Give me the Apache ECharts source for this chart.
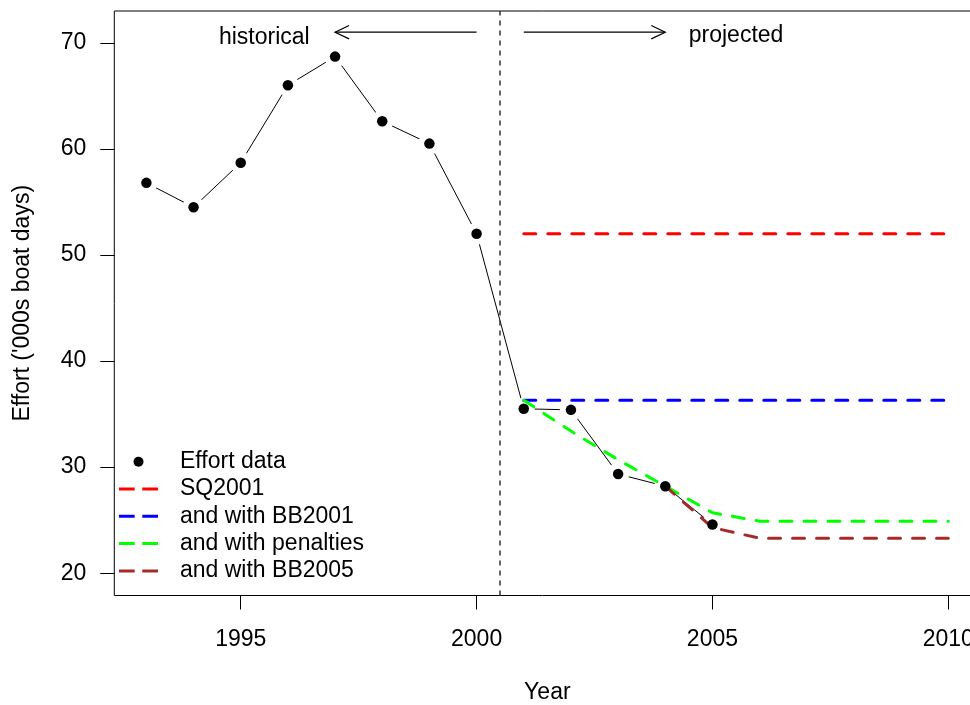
<!DOCTYPE html>
<html><head><meta charset="utf-8">
<script src="https://cdn.jsdelivr.net/npm/echarts@6/dist/echarts.min.js"></script>
<style>html,body{margin:0;padding:0;background:#fff}#c{width:970px;height:705px}</style>
</head><body><div id="c"></div>
<script>
// ---- data ----
const years = [1993,1994,1995,1996,1997,1998,1999,2000,2001,2002,2003,2004,2005];
const effort = [56.8,54.5,58.7,66.0,68.7,62.6,60.5,52.0,35.5,35.4,29.35,28.2,24.6];
const projYears = [2001,2002,2003,2004,2005,2006,2007,2008,2009,2010];
const sq2001 = [52.0,52.0,52.0,52.0,52.0,52.0,52.0,52.0,52.0,52.0];
const bb2001 = [36.3,36.3,36.3,36.3,36.3,36.3,36.3,36.3,36.3,36.3];
const penalties = [36.3,33.4,30.7,28.2,25.7,24.9,24.9,24.9,24.9,24.9];
const bb2005Years = [2004,2005,2006,2007,2008,2009,2010];
const bb2005 = [28.2,24.3,23.3,23.3,23.3,23.3,23.3];
const xTicks = [1995,2000,2005,2010];
const yTicks = [20,30,40,50,60,70];
const dividerYear = 2000.5;
const arrowSpecs = [{from:2000,to:1997,y:71},{from:2001,to:2004,y:71}];
const textSpecs = [{text:'historical',x:1995.5,y:70.5},{text:'projected',x:2005.5,y:70.7}];
const seriesNames = ['Effort data','SQ2001','and with BB2001','and with penalties','and with BB2005'];

// ---- helpers ----
const zip = (xs, ys) => xs.map((x, i) => [x, ys[i]]);
const FONT = "'Liberation Sans', Arial, sans-serif";
const FS = 23;
const dashIcon = 'path://M0,0H15.7V3H0Z M23.3,0H39V3H23.3Z';
const dashLine = (color) => ({color, width: 3, type: [12, 12], cap: 'round'});

const chart = echarts.init(document.getElementById('c'), null, {renderer: 'canvas'});
const option = {
  animation: false,
  backgroundColor: '#fff',
  grid: {left: 114.3, top: 11, width: 866.1, height: 584.5, outerBoundsMode: 'none', containLabel: false,
         show: true, borderColor: '#000', borderWidth: 1, backgroundColor: 'transparent'},
  xAxis: {
    type: 'value', min: 1992.32, max: 2010.68,
    name: 'Year', nameLocation: 'middle', nameGap: 86,
    nameTextStyle: {fontFamily: FONT, fontSize: FS, color: '#000', lineHeight: FS},
    axisLine: {show: false},
    axisTick: {show: true, inside: false, length: 14, lineStyle: {color: '#000', width: 1}, customValues: xTicks},
    axisLabel: {show: true, margin: 33, fontFamily: FONT, fontSize: FS, color: '#000', lineHeight: FS, customValues: xTicks, formatter: v => String(v)},
    splitLine: {show: false}
  },
  yAxis: {
    type: 'value', min: 17.9, max: 73.0,
    name: "Effort ('000s boat days)", nameLocation: 'middle', nameGap: 80,
    nameTextStyle: {fontFamily: FONT, fontSize: FS, color: '#000', lineHeight: FS},
    axisLine: {show: false},
    axisTick: {show: true, inside: false, length: 14, lineStyle: {color: '#000', width: 1}, customValues: yTicks},
    axisLabel: {show: true, margin: 28, fontFamily: FONT, fontSize: FS, color: '#000', lineHeight: FS, customValues: yTicks, formatter: v => String(v)},
    splitLine: {show: false}
  },
  legend: {
    orient: 'vertical', left: 119, top: 450.2, padding: 0,
    itemWidth: 39, itemHeight: 10, itemGap: 4.3,
    selectedMode: false,
    itemStyle: {borderWidth: 0},
    textStyle: {fontFamily: FONT, fontSize: FS, color: '#000', lineHeight: FS, padding: [0, 0, 0, 17]},
    data: [
      {name: seriesNames[0], icon: 'circle', itemStyle: {color: '#000', borderWidth: 0, opacity: 1}},
      {name: seriesNames[1], icon: dashIcon, itemStyle: {color: '#ff0000', borderWidth: 0}},
      {name: seriesNames[2], icon: dashIcon, itemStyle: {color: '#0000ff', borderWidth: 0}},
      {name: seriesNames[3], icon: dashIcon, itemStyle: {color: '#00ff00', borderWidth: 0}},
      {name: seriesNames[4], icon: dashIcon, itemStyle: {color: '#a52a2a', borderWidth: 0}}
    ]
  },
  series: [
    {
      name: 'effortLine', type: 'line', data: zip(years, effort), symbol: 'none', z: 1,
      lineStyle: {color: '#000', width: 1}, silent: true,
      markLine: {
        silent: true, symbol: ['none', 'none'], label: {show: false},
        lineStyle: {color: '#333', width: 1.5, type: [5, 5]},
        data: [{xAxis: dividerYear}]
      }
    },
    {
      name: 'gaps', type: 'scatter', data: zip(years, effort), symbol: 'circle', symbolSize: 22, z: 2,
      itemStyle: {color: '#fff', opacity: 1}, silent: true
    },
    {name: seriesNames[1], type: 'line', data: zip(projYears, sq2001), symbol: 'none', z: 3, color: '#ff0000', lineStyle: dashLine('#ff0000')},
    {name: seriesNames[2], type: 'line', data: zip(projYears, bb2001), symbol: 'none', z: 3, color: '#0000ff', lineStyle: dashLine('#0000ff')},
    {name: seriesNames[3], type: 'line', data: zip(projYears, penalties), symbol: 'none', z: 3, color: '#00ff00', lineStyle: dashLine('#00ff00')},
    {name: seriesNames[4], type: 'line', data: zip(bb2005Years, bb2005), symbol: 'none', z: 3, color: '#a52a2a', lineStyle: dashLine('#a52a2a')},
    {
      name: seriesNames[0], type: 'scatter', data: zip(years, effort), symbol: 'circle', symbolSize: 10.5, z: 5,
      itemStyle: {color: '#000', opacity: 1}
    }
  ]
};
chart.setOption(option);

// ---- annotations (arrows + text) positioned via the axes ----
const toPx = (x, y) => chart.convertToPixel({xAxisIndex: 0, yAxisIndex: 0}, [x, y]);
const HEAD_LEN = 14, HEAD_HALF = 6.7;
const graphics = [];
arrowSpecs.forEach(a => {
  const p0 = toPx(a.from, a.y), p1 = toPx(a.to, a.y);
  const dir = Math.sign(p1[0] - p0[0]);
  graphics.push({type: 'polyline', shape: {points: [p0, p1]}, style: {stroke: '#000', lineWidth: 1.2, fill: null}, z: 10});
  graphics.push({type: 'polyline', shape: {points: [[p1[0] - dir * HEAD_LEN, p1[1] - HEAD_HALF], p1, [p1[0] - dir * HEAD_LEN, p1[1] + HEAD_HALF]]}, style: {stroke: '#000', lineWidth: 1.2, fill: null}, z: 10});
});
textSpecs.forEach(t => {
  const p = toPx(t.x, t.y);
  graphics.push({type: 'text', x: p[0], y: p[1], style: {text: t.text, fontFamily: FONT, fontSize: FS, fill: '#000', align: 'center', verticalAlign: 'middle'}, z: 10});
});
chart.setOption({graphic: graphics});
</script>
</body></html>
